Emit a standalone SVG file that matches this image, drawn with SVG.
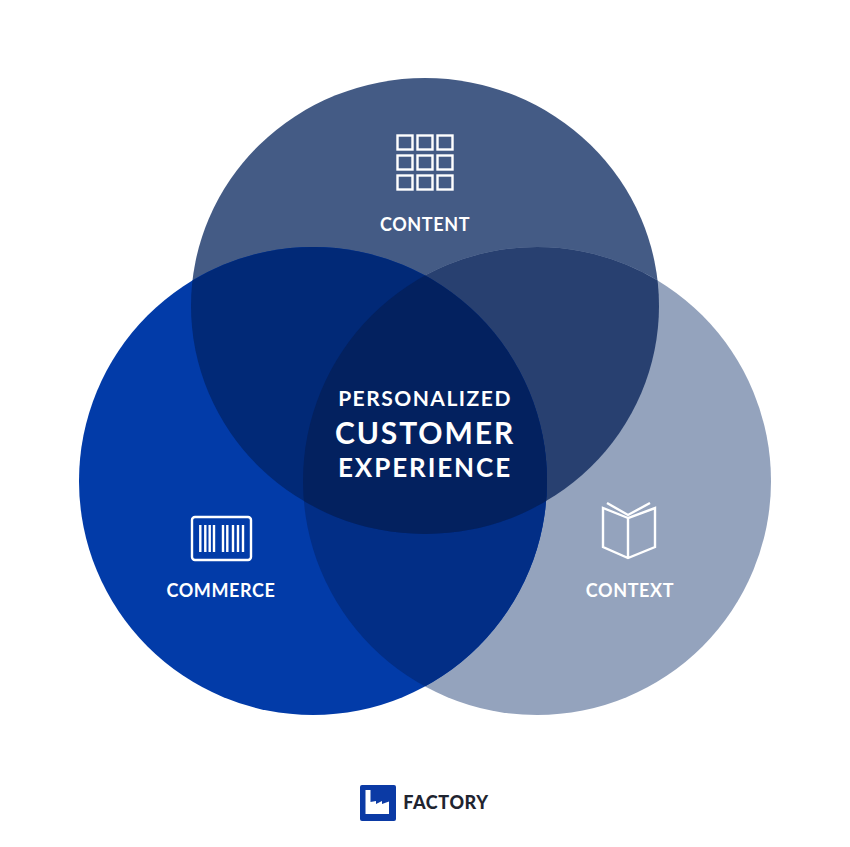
<svg xmlns="http://www.w3.org/2000/svg" width="850" height="847" viewBox="0 0 850 847">
<style>
text{font-family:"Lato","Liberation Sans",sans-serif;font-weight:700;fill:#fff;text-anchor:middle}
.lab{font-size:18px;letter-spacing:.6px}
.ic{fill:none;stroke:#fff;stroke-width:2.4}
</style>
<defs>
<clipPath id="cT"><ellipse cx="425" cy="306" rx="234" ry="228"/></clipPath>
<clipPath id="cR"><circle cx="537" cy="481" r="234"/></clipPath>
</defs>
<rect width="850" height="847" fill="#fff"/>
<g id="venn">
<ellipse id="circle-content" cx="425" cy="306" rx="234" ry="228" fill="#445b85"/>
<circle id="circle-context" cx="537" cy="481" r="234" fill="#94a3bd"/>
<circle id="circle-commerce" cx="313" cy="481" r="234" fill="#023ba8"/>
<g clip-path="url(#cT)"><circle cx="537" cy="481" r="234" fill="#284070"/></g>
<g clip-path="url(#cR)"><circle cx="313" cy="481" r="234" fill="#022e86"/></g>
<g clip-path="url(#cT)"><circle cx="313" cy="481" r="234" fill="#012977"/></g>
<g clip-path="url(#cT)"><g clip-path="url(#cR)"><circle cx="313" cy="481" r="234" fill="#03215f"/></g></g>
</g>
<g id="node-content">
<g class="ic">
<rect x="397.500" y="135.500" width="15" height="14"/><rect x="417.500" y="135.500" width="15" height="14"/><rect x="437.500" y="135.500" width="15" height="14"/>
<rect x="397.500" y="155.500" width="15" height="14"/><rect x="417.500" y="155.500" width="15" height="14"/><rect x="437.500" y="155.500" width="15" height="14"/>
<rect x="397.500" y="175.500" width="15" height="14"/><rect x="417.500" y="175.500" width="15" height="14"/><rect x="437.500" y="175.500" width="15" height="14"/>
</g>
<text class="lab" x="425" y="231">CONTENT</text>
</g>
<g id="node-commerce">
<rect class="ic" x="192" y="517" width="59" height="43" rx="3"/>
<path class="ic" d="M200.300 525V552M205.300 525V552M209.700 525V552M214 525V552M223 525V552M227.300 525V552M233 525V552M238 525V552M243 525V552"/>
<text class="lab" x="221" y="597">COMMERCE</text>
</g>
<g id="node-context">
<path class="ic" d="M628 518L603 508V547L628 558L655 547V508L628 518V558M607 503L628 515L650 503"/>
<text class="lab" x="630" y="597">CONTEXT</text>
</g>
<g id="node-center">
<text x="425" y="406" font-size="21" letter-spacing="1.5">PERSONALIZED</text>
<text x="425" y="444" font-size="30" letter-spacing="1.9">CUSTOMER</text>
<text x="425" y="477" font-size="26" letter-spacing="1.9">EXPERIENCE</text>
</g>
<g id="logo">
<rect x="360" y="785" width="36" height="36" rx="2" fill="#0b3aa5"/>
<path d="M365.500 790H370.500V802L376 801V804L382 801V804L389 801.500V814H365.500Z" fill="#fff"/>
<text x="446" y="809" font-size="18" letter-spacing=".6" style="fill:#1f2430;font-weight:900">FACTORY</text>
</g>
</svg>
